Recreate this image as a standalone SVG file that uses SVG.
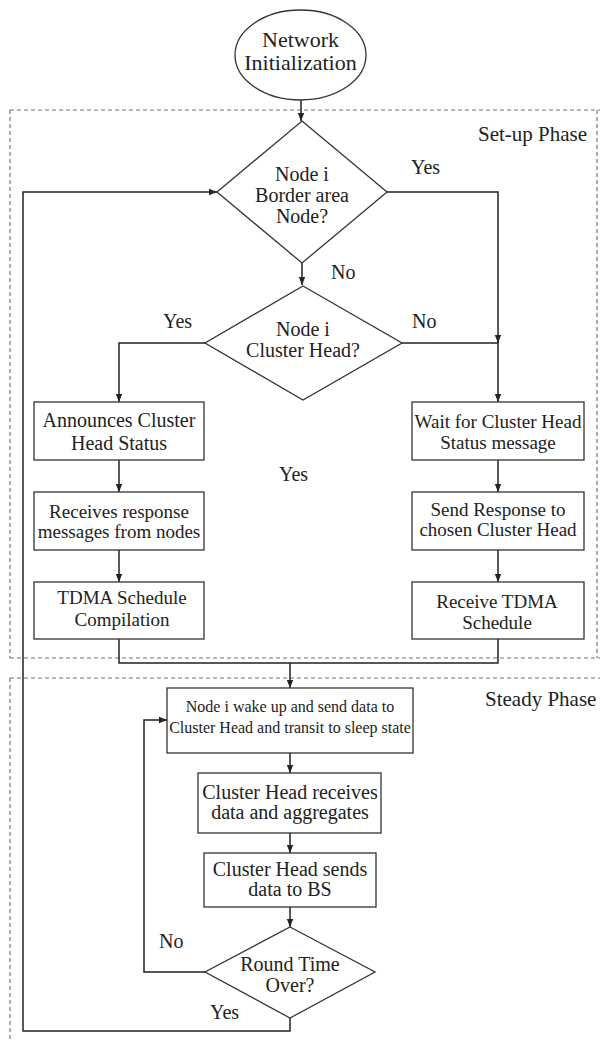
<svg xmlns="http://www.w3.org/2000/svg" width="600" height="1040" viewBox="0 0 600 1040">
<style>
text{font-family:"Liberation Serif","Times New Roman",serif;fill:#222;text-anchor:middle}
.lbl{text-anchor:start}
.shape{fill:#fff;stroke:#333;stroke-width:1.3}
.conn{fill:none;stroke:#222;stroke-width:1.5}
.dash{fill:none;stroke:#777;stroke-width:1.2;stroke-dasharray:4 3}
</style>
<defs>
<marker id="arr" markerWidth="8" markerHeight="8" refX="8" refY="4" orient="auto" markerUnits="userSpaceOnUse">
<path d="M0,0.8 L8,4 L0,7.2 Z" fill="#222"/>
</marker>
</defs>
<rect width="600" height="1040" fill="#fff"/>
<g id="phases">
<path class="dash" d="M10 110 H600 M10 110 V658 M10 658 H600 M597 110 V658"/>
<path class="dash" d="M10 678 H600 M10 678 V1040"/>
<text class="lbl" x="478" y="141" font-size="21">Set-up Phase</text>
<text class="lbl" x="485" y="706" font-size="21">Steady Phase</text>
</g>
<g id="connectors">
<path class="conn" d="M301 100 V121" marker-end="url(#arr)"/>
<path class="conn" d="M302 263 V285" marker-end="url(#arr)"/>
<path class="conn" d="M387 192 H498 V343" marker-end="url(#arr)"/>
<path class="conn" d="M402 343 H498 V402" marker-end="url(#arr)"/>
<path class="conn" d="M205 343 H119 V402" marker-end="url(#arr)"/>
<path class="conn" d="M119 460 V492" marker-end="url(#arr)"/>
<path class="conn" d="M119 550 V582" marker-end="url(#arr)"/>
<path class="conn" d="M498 460 V492" marker-end="url(#arr)"/>
<path class="conn" d="M498 550 V582" marker-end="url(#arr)"/>
<path class="conn" d="M119 639 V663 H498 V639"/>
<path class="conn" d="M290 663 V688" marker-end="url(#arr)"/>
<path class="conn" d="M290 753 V773" marker-end="url(#arr)"/>
<path class="conn" d="M290 833 V853" marker-end="url(#arr)"/>
<path class="conn" d="M290 907 V927" marker-end="url(#arr)"/>
<path class="conn" d="M205 972 H144 V720 H167" marker-end="url(#arr)"/>
<path class="conn" d="M290 1018 V1031 H23 V192 H217" marker-end="url(#arr)"/>
<text class="lbl" x="411" y="174" font-size="20">Yes</text>
<text class="lbl" x="331" y="279" font-size="20">No</text>
<text class="lbl" x="163" y="328" font-size="20">Yes</text>
<text class="lbl" x="412" y="328" font-size="20">No</text>
<text class="lbl" x="279" y="481" font-size="20">Yes</text>
<text class="lbl" x="159" y="948" font-size="20">No</text>
<text class="lbl" x="210" y="1019" font-size="20">Yes</text>
</g>
<g id="start">
<ellipse class="shape" cx="300.5" cy="55" rx="65.5" ry="45"/>
<text x="300.5" y="47" font-size="22">Network</text>
<text x="300.5" y="70" font-size="22">Initialization</text>
</g>
<g id="decision-border">
<polygon class="shape" points="302,121 387,192 302,263 217,192"/>
<text x="302" y="181" font-size="20">Node i</text>
<text x="302" y="202" font-size="20">Border area</text>
<text x="302" y="223" font-size="20">Node?</text>
</g>
<g id="decision-ch">
<polygon class="shape" points="303,286 402,343 303,400 205,343"/>
<text x="303" y="336" font-size="20">Node i</text>
<text x="303" y="357" font-size="20">Cluster Head?</text>
</g>
<g id="announce">
<rect class="shape" x="34" y="402" width="170" height="58"/>
<text x="119" y="427" font-size="20">Announces Cluster</text>
<text x="119" y="450" font-size="20">Head Status</text>
</g>
<g id="wait">
<rect class="shape" x="412" y="402" width="172" height="58"/>
<text x="498" y="428" font-size="19">Wait for Cluster Head</text>
<text x="498" y="449" font-size="19">Status message</text>
</g>
<g id="receives">
<rect class="shape" x="34" y="492" width="170" height="58"/>
<text x="119" y="518" font-size="19">Receives response</text>
<text x="119" y="538" font-size="19">messages from nodes</text>
</g>
<g id="send-response">
<rect class="shape" x="412" y="492" width="172" height="58"/>
<text x="498" y="516" font-size="19">Send Response to</text>
<text x="498" y="536" font-size="19">chosen Cluster Head</text>
</g>
<g id="tdma-compile">
<rect class="shape" x="34" y="582" width="170" height="57"/>
<text x="122" y="604" font-size="19">TDMA Schedule</text>
<text x="122" y="626" font-size="19">Compilation</text>
</g>
<g id="tdma-receive">
<rect class="shape" x="412" y="582" width="172" height="57"/>
<text x="497" y="608" font-size="19">Receive TDMA</text>
<text x="497" y="629" font-size="19">Schedule</text>
</g>
<g id="wake">
<rect class="shape" x="167" y="688" width="246" height="65"/>
<text x="290" y="712" font-size="16">Node i wake up and send data to</text>
<text x="290" y="733" font-size="16">Cluster Head and transit to sleep state</text>
</g>
<g id="aggregate">
<rect class="shape" x="198" y="773" width="183" height="60"/>
<text x="290" y="799" font-size="20">Cluster Head receives</text>
<text x="290" y="819" font-size="20">data and aggregates</text>
</g>
<g id="send-bs">
<rect class="shape" x="204" y="853" width="172" height="54"/>
<text x="290" y="876" font-size="20">Cluster Head sends</text>
<text x="290" y="896" font-size="20">data to BS</text>
</g>
<g id="decision-round">
<polygon class="shape" points="290,927 375,972 290,1018 205,972"/>
<text x="290" y="971" font-size="20">Round Time</text>
<text x="290" y="992" font-size="20">Over?</text>
</g>
</svg>
